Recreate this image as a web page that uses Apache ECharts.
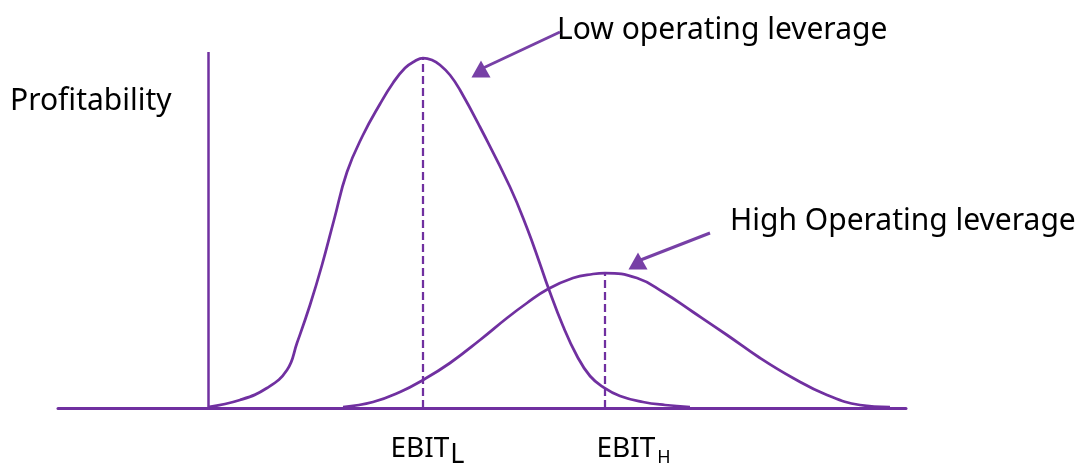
<!DOCTYPE html>
<html>
<head>
<meta charset="utf-8">
<script src="https://cdn.jsdelivr.net/npm/echarts@6/dist/echarts.min.js"></script>
<style>
html,body{margin:0;padding:0;background:#fff;}
#chart{width:1078px;height:466px;}
</style>
</head>
<body>
<div id="chart"></div>
<script>
// Low operating leverage curve [EBIT, profitability]
var lowLeverage = [
  [0,1],[32,8],[59,20],[79,38],[89,65],[102,103],[114,143],[126,188],[139,236],[155,273],
  [172,304],[185,325],[197,340],[207,347],[215,350],[224,348],[232,343],[242,333],[252,318],
  [272,281],[302,221],[319,180],[332,144],[340,121],[355,82],[369,52],[382,32],[395,21],
  [412,12],[435,6],[457,3],[482,1]
];
// High operating leverage curve
var highLeverage = [
  [135,1],[165,6],[192,16],[215,28],[242,45],[272,68],[299,90],[319,105],[340,119],[365,130],
  [385,134],[397,135],[429,130],[455,116],[485,96],[519,73],[552,50],[585,30],[619,13],[652,3],[682,1]
];
// Expected EBIT markers: [x, peak height]
var ebitL = [215, 350];
var ebitH = [397, 135];
var tickValues = [215, 397];
var tickBase = ['EBIT', 'EBIT'];
var tickSub = ['L', 'H'];
// Y axis extent
var yAxisTop = 356;
// Annotation arrows: [from, to]
var lowArrow = [[352, 376], [273, 339]];
var highArrow = [[502, 175], [430, 147]];
var titles = ['Profitability', 'Low operating leverage', 'High Operating leverage'];

var purple = '#7030A0';
var arrowColor = '#7740A6';
var font = '"Noto Sans", "Open Sans", sans-serif';

var chart = echarts.init(document.getElementById('chart'));

var option = {
  animation: false,
  backgroundColor: '#fff',
  grid: {left: 58, right: 172, top: 0, bottom: 58, containLabel: false, outerBoundsMode: 'none'},
  xAxis: {
    type: 'value', min: -150, max: 698,
    axisLine: {show: true, onZero: true, lineStyle: {color: purple, width: 3}},
    axisTick: {show: false},
    splitLine: {show: false},
    axisLabel: {
      show: true,
      customValues: tickValues,
      margin: 21,
      formatter: function (v) {
        var i = tickValues.indexOf(v);
        if (i < 0) return '';
        return (i === 0 ? '{sp0| }' : '{sp1| }') + '{a|' + tickBase[i] + '}' + (i === 0 ? '{l|' : '{h|') + tickSub[i] + '}';
      },
      rich: {
        sp0: {width: 9, fontSize: 10},
        sp1: {width: 57, fontSize: 10},
        a: {fontFamily: font, fontSize: 28, lineHeight: 40, color: '#000'},
        l: {fontFamily: font, fontSize: 27, lineHeight: 28, padding: [12, 0, 0, 1], color: '#000'},
        h: {fontFamily: font, fontSize: 18, lineHeight: 22, padding: [17, 0, 0, 2], color: '#000'}
      }
    }
  },
  yAxis: {
    type: 'value', min: 0, max: 408,
    show: false
  },
  graphic: [
    {type: 'text', left: 10, top: 86, style: {text: titles[0], fontFamily: font, fontSize: 30, fill: '#000'}},
    {type: 'text', left: 557, top: 15, style: {text: titles[1], fontFamily: font, fontSize: 30, fill: '#000'}},
    {type: 'text', left: 730, top: 206, style: {text: titles[2], fontFamily: font, fontSize: 30, fill: '#000'}}
  ],
  series: [
    {
      name: 'Low operating leverage',
      type: 'line',
      data: lowLeverage,
      smooth: 0.45,
      showSymbol: false,
      symbol: 'none',
      clip: false,
      lineStyle: {color: purple, width: 2.75},
      markLine: {
        silent: true,
        symbol: 'none',
        label: {show: false},
        data: [
          [{coord: [0, 0], lineStyle: {type: 'solid', width: 2.5, color: purple}}, {coord: [0, yAxisTop]}],
          [{coord: [ebitL[0], 0], lineStyle: {type: [8, 4], width: 2.25, color: purple}}, {coord: [ebitL[0], ebitL[1]]}],
          [{coord: lowArrow[0], symbol: 'none', lineStyle: {type: 'solid', width: 3, color: arrowColor}},
           {coord: lowArrow[1], symbol: 'triangle', symbolSize: [19, 17], symbolRotate: 0}]
        ]
      }
    },
    {
      name: 'High Operating leverage',
      type: 'line',
      data: highLeverage,
      smooth: 0.45,
      showSymbol: false,
      symbol: 'none',
      clip: false,
      lineStyle: {color: purple, width: 2.75},
      markLine: {
        silent: true,
        symbol: 'none',
        label: {show: false},
        data: [
          [{coord: [ebitH[0], 0], lineStyle: {type: [8, 4], width: 2.25, color: purple}}, {coord: [ebitH[0], ebitH[1]]}],
          [{coord: highArrow[0], symbol: 'none', lineStyle: {type: 'solid', width: 3, color: arrowColor}},
           {coord: highArrow[1], symbol: 'triangle', symbolSize: [19, 17], symbolRotate: 0}]
        ]
      }
    }
  ]
};
chart.setOption(option);
</script>
</body>
</html>
